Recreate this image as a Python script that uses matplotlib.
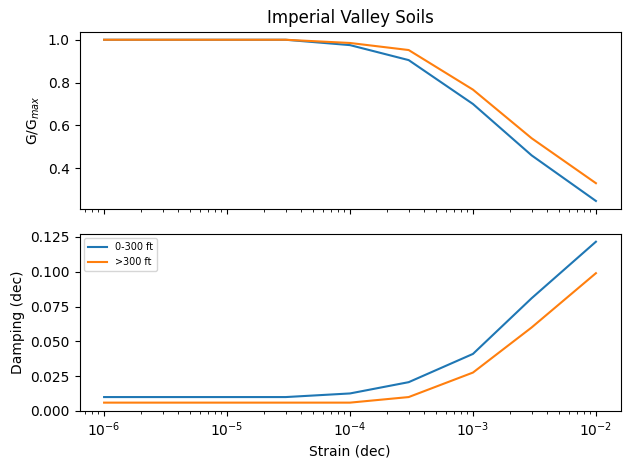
import matplotlib
matplotlib.use("Agg")
import matplotlib.pyplot as plt

# strain (dec)
strains = [1e-6, 3e-6, 1e-5, 3e-5, 1e-4, 3e-4, 1e-3, 3e-3, 1e-2]

labels = ["0-300 ft", ">300 ft"]

# shear modulus reduction
mod_reduc_shallow = [1.0, 1.0, 1.0, 1.0, 0.975, 0.905, 0.70, 0.46, 0.247]
mod_reduc_deep = [1.0, 1.0, 1.0, 1.0, 0.985, 0.952, 0.767, 0.54, 0.33]

# damping (dec)
damping_shallow = [0.010, 0.010, 0.010, 0.010, 0.0126, 0.0207, 0.041, 0.081, 0.1216]
damping_deep = [0.006, 0.006, 0.006, 0.006, 0.006, 0.010, 0.0276, 0.060, 0.099]

fig, axes = plt.subplots(2, 1, sharex=True, figsize=(6.29, 4.69), dpi=100)

axes[0].plot(strains, mod_reduc_shallow, label=labels[0])
axes[0].plot(strains, mod_reduc_deep, label=labels[1])
axes[0].set_ylabel("G/G$_{max}$")
axes[0].set_title("Imperial Valley Soils")

axes[1].plot(strains, damping_shallow, label=labels[0])
axes[1].plot(strains, damping_deep, label=labels[1])
axes[1].set_ylabel("Damping (dec)")
axes[1].set_ylim(bottom=0)
axes[1].set_xlabel("Strain (dec)")
axes[1].legend(loc="upper left", fontsize="x-small")

axes[1].set_xscale("log")

fig.subplots_adjust(left=0.1264, right=0.9865, top=0.9324, bottom=0.1237, hspace=0.139)
fig.savefig("out.png")
